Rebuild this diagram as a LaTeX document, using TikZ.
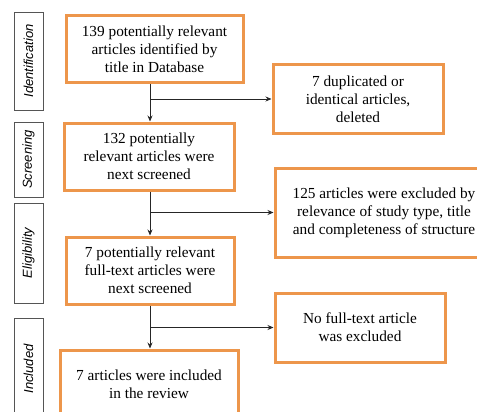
\documentclass[tikz,border=0pt]{standalone}
\usepackage{fontspec}
\setmainfont{Liberation Serif}
\newfontfamily\boxfont{Liberation Serif}
\newfontfamily\labelfont{Liberation Sans}
\usetikzlibrary{arrows.meta}
\definecolor{boxorange}{RGB}{237,150,75}
\definecolor{labgray}{RGB}{85,85,85}
\begin{document}
\begin{tikzpicture}[x=1pt,y=-1pt,
  mainbox/.style={draw=boxorange,line width=3pt,fill=white,inner sep=0pt,align=center,
    font=\boxfont\fontsize{15.3}{18}\selectfont},
  stagebox/.style={draw=labgray,line width=0.9pt,inner sep=0pt,minimum width=29pt},
  stagetext/.style={rotate=90,font=\labelfont\itshape\fontsize{13}{15}\selectfont},
  arrow/.style={draw=black!85,line width=0.8pt,-{Stealth[length=6pt,width=5pt]}}]
\useasboundingbox (0,0) rectangle (477,412);
\clip (0,0) rectangle (477,412);
\fill[white] (0,0) rectangle (477,412);
% stage labels
\node[stagebox,minimum height=98pt] (sid) at (28.5,61) {};
\node[stagetext] (tid) at (sid.center) {Identification};
\node[stagebox,minimum height=75pt] (ssc) at (28.5,159.5) {};
\node[stagetext] (tsc) at (ssc.center) {Screening};
\node[stagebox,minimum height=100pt] (sel) at (28.5,253) {};
\node[stagetext] (tel) at (sel.center) {Eligibility};
\node[stagebox,minimum height=102pt] (sin) at (28.5,369) {};
\node[stagetext] (tin) at (sin.center) {Included};
% main boxes
\node[mainbox,minimum width=177pt,minimum height=67pt] (b1) at (154.5,49.5)
  {139 potentially relevant\\articles identified by\\title in Database};
\node[mainbox,minimum width=170pt,minimum height=67pt] (b2) at (149,156.5)
  {132 potentially\\relevant articles were\\next screened};
\node[mainbox,minimum width=168pt,minimum height=67pt] (b3) at (150,270.5)
  {7 potentially relevant\\full-text articles were\\next screened};
\node[mainbox,minimum width=178pt,minimum height=68pt] (b4) at (149,384)
  {7 articles were included\\in the review};
% side boxes
\node[mainbox,minimum width=170pt,minimum height=68pt] (d1) at (358,99)
  {7 duplicated or\\identical articles,\\deleted};
\node[mainbox,minimum width=218pt,minimum height=89pt] (d2) at (384,212.5)
  {125 articles were excluded by\\relevance of study type, title\\and completeness of structure};
\node[mainbox,minimum width=170pt,minimum height=69pt] (d3) at (360,327.5)
  {No full-text article\\was excluded};
% connectors
\coordinate (spine) at (150,0);
\draw[arrow] (b1.south -| spine) -- (b2.north -| spine);
\draw[arrow] (spine |- d1.west) -- (d1.west);
\draw[arrow] (b2.south -| spine) -- (b3.north -| spine);
\draw[arrow] (spine |- d2.west) -- (d2.west);
\draw[arrow] (b3.south -| spine) -- (b4.north -| spine);
\draw[arrow] (spine |- d3.west) -- (d3.west);
\end{tikzpicture}
\end{document}
